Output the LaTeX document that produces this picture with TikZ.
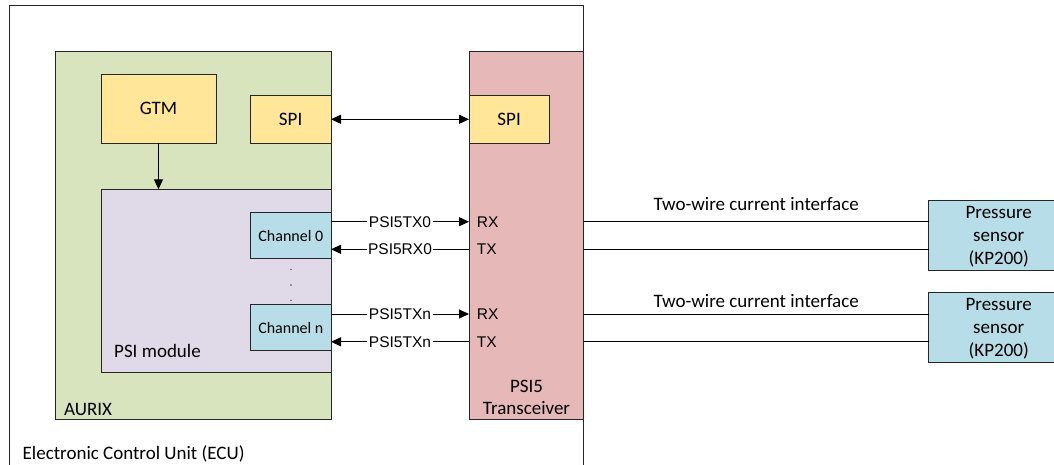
\documentclass[tikz,border=0pt]{standalone}
\usepackage{fontspec}
\setmainfont{Carlito}
\newfontfamily\arialfont{Liberation Sans}
\usetikzlibrary{arrows.meta}
\definecolor{ecugreen}{HTML}{D7E4BD}
\definecolor{gtmyellow}{HTML}{FFE699}
\definecolor{psipurple}{HTML}{E0D9E8}
\definecolor{chblue}{HTML}{B7DEE8}
\definecolor{trxred}{HTML}{E6B9B8}
\definecolor{edge}{HTML}{262626}
\tikzset{
  blk/.style={rectangle, draw=edge, line width=1pt, inner sep=0pt, outer sep=0pt, anchor=north west},
  big/.style={font=\fontsize{19}{22.6}\selectfont},
  small/.style={font=\fontsize{16}{19}\selectfont},
  ari/.style={font=\arialfont\fontsize{15.5}{18}\selectfont},
  wire/.style={draw=black, line width=1pt},
  arr/.style={wire, -{Triangle[length=10pt,width=9pt]}},
  darr/.style={wire, {Triangle[length=10pt,width=9pt]}-{Triangle[length=10pt,width=9pt]}},
  lbl/.style={ari, fill=white, inner xsep=1.5pt, inner ysep=1pt},
  corner/.style={anchor=west, inner sep=0pt},
  dotmark/.style={circle, fill=black!70, inner sep=0pt, minimum size=1.6pt}
}
\begin{document}
\begin{tikzpicture}[x=1pt,y=-1pt]
\useasboundingbox (0,0) rectangle (1054,464);
% ECU
\node[blk, fill=white, minimum width=574.7, minimum height=480] (ecu) at (9,5) {};
\node[big, corner] (eculbl) at (22.5,454) {Electronic Control Unit (ECU)};
% AURIX
\node[blk, fill=ecugreen, minimum width=276, minimum height=367.6] (aurix) at (55,51.7) {};
\node[big, corner] (aurixlbl) at (64,409.3) {AURIX};
\node[blk, fill=gtmyellow, minimum width=115, minimum height=69] (gtm) at (101,74.3) {};
\node[big] at (gtm.center) {GTM};
\node[blk, fill=gtmyellow, minimum width=80.7, minimum height=48] (spia) at (250.3,95.3) {};
\node[big] at (spia.center) {SPI};
\node[blk, fill=psipurple, minimum width=230, minimum height=183.4] (psi) at (101,189.3) {};
\node[big, corner] (psilbl) at (114,350.7) {PSI module};
\node[blk, fill=chblue, minimum width=80.3, minimum height=45.6] (ch0) at (250.7,212.7) {};
\node[small] at (ch0.center) {Channel 0};
\node[blk, fill=chblue, minimum width=80.3, minimum height=45.6] (chn) at (250.7,304.7) {};
\node[small] at (chn.center) {Channel n};
\node[dotmark] (d1) at (291,269.3) {};
\node[dotmark] (d2) at (291,285) {};
\node[dotmark] (d3) at (291,300.3) {};
% Transceiver
\node[blk, fill=trxred, minimum width=114.7, minimum height=368] (trx) at (469,51.3) {};
\node[big, align=center] (trxlbl) at (526.5,397.5) {PSI5\\Transceiver};
\node[blk, fill=gtmyellow, minimum width=80.3, minimum height=48] (spib) at (469,95.3) {};
\node[big] at (spib.center) {SPI};
% sensors
\node[blk, fill=chblue, minimum width=140, minimum height=69.3] (sens1) at (928.7,200.7) {};
\node[big, align=center] at ([yshift=-1.4pt]sens1.center) {Pressure\\sensor\\(KP200)};
\node[blk, fill=chblue, minimum width=140, minimum height=69.3] (sens2) at (928.7,292.7) {};
\node[big, align=center] at ([yshift=-1.4pt]sens2.center) {Pressure\\sensor\\(KP200)};
% levels
\coordinate (l1) at (0,221.7);
\coordinate (l2) at (0,249.3);
\coordinate (l3) at (0,314);
\coordinate (l4) at (0,341.8);
% connectors
\draw[darr] (spia.east) -- (spib.west);
\draw[arr] (gtm.south) -- (gtm.south |- psi.north);
\draw[arr] (ch0.east |- l1) -- (trx.west |- l1) node[midway, lbl] {PSI5TX0};
\draw[arr] (trx.west |- l2) -- (ch0.east |- l2) node[midway, lbl] {PSI5RX0};
\draw[arr] (chn.east |- l3) -- (trx.west |- l3) node[midway, lbl] {PSI5TXn};
\draw[arr] (trx.west |- l4) -- (chn.east |- l4) node[midway, lbl] {PSI5TXn};
\node[ari, corner] (rx0) at (476.7,221.7) {RX};
\node[ari, corner] (tx0) at (476.7,249.3) {TX};
\node[ari, corner] (rxn) at (476.7,314) {RX};
\node[ari, corner] (txn) at (476.7,341.8) {TX};
\draw[wire] (trx.east |- l1) -- (sens1.west |- l1) node[midway, big, yshift=17.4pt] {Two-wire current interface};
\draw[wire] (trx.east |- l2) -- (sens1.west |- l2);
\draw[wire] (trx.east |- l3) -- (sens2.west |- l3) node[midway, big, yshift=13.3pt] {Two-wire current interface};
\draw[wire] (trx.east |- l4) -- (sens2.west |- l4);
\end{tikzpicture}
\end{document}
